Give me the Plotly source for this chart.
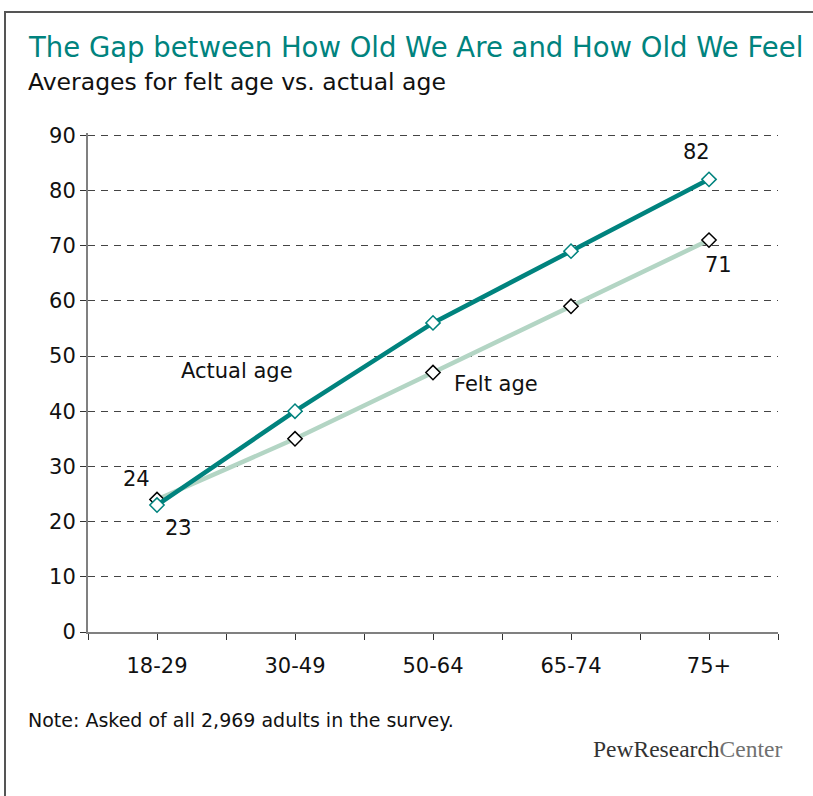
import plotly.graph_objects as go

# data
age_groups = ["18-29", "30-49", "50-64", "65-74", "75+"]
actual_age = [23, 40, 56, 69, 82]
felt_age = [24, 35, 47, 59, 71]

W, H = 813, 796
L, R, T, B = 88, 35, 133, 164

TEAL = "#00837E"
SAGE = "#B3D5C4"
FONT = "DejaVu Sans, Verdana, sans-serif"


def px_x(px):
    return (px - L) / (W - L - R)


def px_y(py):
    return (H - B - py) / (H - T - B)


xs = list(range(len(age_groups)))

fig = go.Figure()
fig.add_trace(go.Scatter(
    x=xs, y=felt_age, mode="lines+markers", name="Felt age",
    line=dict(color=SAGE, width=4.5),
    marker=dict(symbol="diamond", size=11, color="white", line=dict(color="black", width=1.5)),
))
fig.add_trace(go.Scatter(
    x=xs, y=actual_age, mode="lines+markers", name="Actual age",
    line=dict(color=TEAL, width=4.5),
    marker=dict(symbol="diamond", size=11, color="white", line=dict(color=TEAL, width=1.5)),
))

# value labels at the ends
lab_font = dict(family=FONT, size=21, color="#111")
fig.add_annotation(x=xs[0], y=felt_age[0], text=str(felt_age[0]), showarrow=False,
                   xshift=-21, yshift=21, font=lab_font)
fig.add_annotation(x=xs[0], y=actual_age[0], text=str(actual_age[0]), showarrow=False,
                   xshift=21, yshift=-23, font=lab_font)
fig.add_annotation(x=xs[-1], y=actual_age[-1], text=str(actual_age[-1]), showarrow=False,
                   xshift=-13, yshift=27, font=lab_font)
fig.add_annotation(x=xs[-1], y=felt_age[-1], text=str(felt_age[-1]), showarrow=False,
                   xshift=9, yshift=-25, font=lab_font)

# series labels
fig.add_annotation(x=0.58, y=47.3, text="Actual age", showarrow=False, font=lab_font)
fig.add_annotation(x=2.46, y=44.9, text="Felt age", showarrow=False, font=lab_font)

# title block, note and logo
fig.add_annotation(xref="paper", yref="paper", x=px_x(26), y=px_y(47), xanchor="left", yanchor="middle",
                   text="The Gap between How Old We Are and How Old We Feel", showarrow=False,
                   font=dict(family=FONT, size=27.5, color=TEAL))
fig.add_annotation(xref="paper", yref="paper", x=px_x(26), y=px_y(82), xanchor="left", yanchor="middle",
                   text="Averages for felt age vs. actual age", showarrow=False,
                   font=dict(family=FONT, size=23.5, color="#111"))
fig.add_annotation(xref="paper", yref="paper", x=px_x(26), y=px_y(720), xanchor="left", yanchor="middle",
                   text="Note: Asked of all 2,969 adults in the survey.", showarrow=False,
                   font=dict(family=FONT, size=19, color="#111"))
fig.add_annotation(xref="paper", yref="paper", x=px_x(784), y=px_y(749), xanchor="right", yanchor="middle",
                   text="PewResearch<span style='color:#707070'>Center</span>", showarrow=False,
                   font=dict(family="Liberation Serif, Times New Roman, serif", size=23.5, color="#333"))

# outer frame (runs off the right and bottom edges)
fig.add_shape(type="rect", xref="paper", yref="paper",
              x0=px_x(5), y0=px_y(H + 20), x1=px_x(W + 20), y1=px_y(12),
              line=dict(color="#555", width=2))

fig.update_layout(
    width=W, height=H,
    margin=dict(l=L, r=R, t=T, b=B),
    paper_bgcolor="white", plot_bgcolor="white",
    showlegend=False,
    font=dict(family=FONT, color="#111"),
    xaxis=dict(
        range=[-0.5, len(age_groups) - 0.5],
        tickmode="array", tickvals=xs, ticktext=age_groups,
        ticks="outside", ticklen=6, tickcolor="#333",
        minor=dict(tickmode="array", tickvals=[i - 0.5 for i in range(len(age_groups) + 1)],
                   ticks="outside", ticklen=6, tickcolor="#333", showgrid=False),
        showgrid=False, zeroline=False,
        showline=True, linecolor="#808080", linewidth=2,
        tickfont=dict(size=21), ticklabelstandoff=8, fixedrange=True,
    ),
    yaxis=dict(
        # a little headroom above 90 so the top dashed gridline is still drawn
        range=[0, 90.4], dtick=10,
        ticks="outside", ticklen=6, tickcolor="#333",
        showgrid=True, gridcolor="#444", griddash="7px,6px", gridwidth=1,
        zeroline=False, showline=True, linecolor="#808080", linewidth=2,
        tickfont=dict(size=21), fixedrange=True,
    ),
)

# the page body has an 8px default margin; drop it so the figure sits at the window corner
fig.write_html("out.html", config={"displayModeBar": False},
               post_script="document.body.style.margin='0';")
